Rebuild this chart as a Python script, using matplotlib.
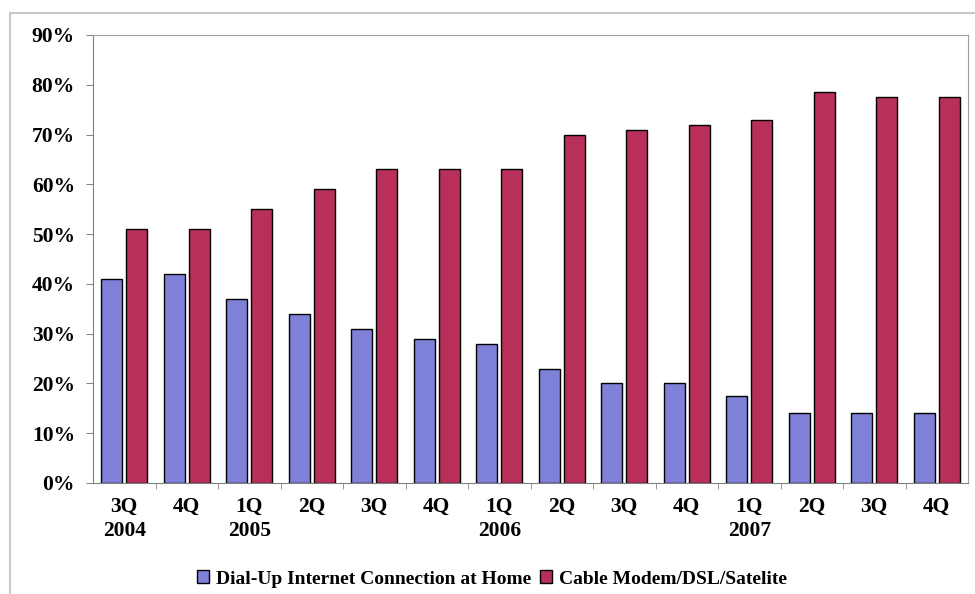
import numpy as np
import matplotlib.pyplot as plt
from matplotlib.patches import Rectangle

quarters = ["3Q", "4Q", "1Q", "2Q", "3Q", "4Q", "1Q", "2Q", "3Q", "4Q", "1Q", "2Q", "3Q", "4Q"]
years = ["2004", "", "2005", "", "", "", "2006", "", "", "", "2007", "", "", ""]
dial_up = [41, 42, 37, 34, 31, 29, 28, 23, 20, 20, 17.5, 14, 14, 14]
broadband = [51, 51, 55, 59, 63, 63, 63, 70, 71, 72, 73, 78.5, 77.5, 77.5]

blue = "#7f80d8"
red = "#b8305a"

plt.rcParams["font.family"] = ["Liberation Serif", "DejaVu Serif"]
plt.rcParams["font.weight"] = "bold"

fig = plt.figure(figsize=(9.75, 5.94), dpi=100)
ax = fig.add_axes([93 / 975, 1 - 483 / 594, 875 / 975, 448 / 594])

# light outer frame around the whole chart
fig.patches.append(Rectangle((10 / 975, -0.01), 1.0, 1 - 13 / 594 + 0.01,
                             transform=fig.transFigure, fill=False,
                             edgecolor="#c8c8c8", linewidth=1.5))

x = np.arange(len(quarters))
w = 0.34
ax.bar(x - 0.2, dial_up, w, color=blue, edgecolor="black", linewidth=1.0,
       label="Dial-Up Internet Connection at Home")
ax.bar(x + 0.2, broadband, w, color=red, edgecolor="black", linewidth=1.0,
       label="Cable Modem/DSL/Satelite")

ax.set_xlim(-0.5, len(quarters) - 0.5)
ax.set_ylim(0, 90)
ax.set_yticks(np.arange(0, 91, 10))
ax.set_yticklabels([f"{v}%" for v in range(0, 91, 10)], fontsize=15.5, fontweight="bold")

ax.set_xticks(x)
ax.set_xticklabels([f"{q}\n{y}" if y else q for q, y in zip(quarters, years)],
                   fontsize=15.5, fontweight="bold", linespacing=1.3, va="top")
ax.set_xticks(np.arange(0.5, len(quarters) - 0.5, 1), minor=True)
ax.tick_params(axis="x", which="major", length=0, pad=10)
ax.tick_params(axis="x", which="minor", length=4, color="#888888")
ax.tick_params(axis="y", length=5, color="#888888", pad=8)

for s in ["left", "bottom"]:
    ax.spines[s].set_color("#808080")
for s in ["top", "right"]:
    ax.spines[s].set_color("#a0a0a0")

leg = fig.legend(loc="center", bbox_to_anchor=(492 / 975, 1 - 579 / 594), ncol=2,
                 frameon=False, fontsize=14, handlelength=0.6, handleheight=0.6,
                 handletextpad=0.35, columnspacing=0.5)
for t in leg.get_texts():
    t.set_fontweight("bold")

fig.savefig("out.png", dpi=100)
